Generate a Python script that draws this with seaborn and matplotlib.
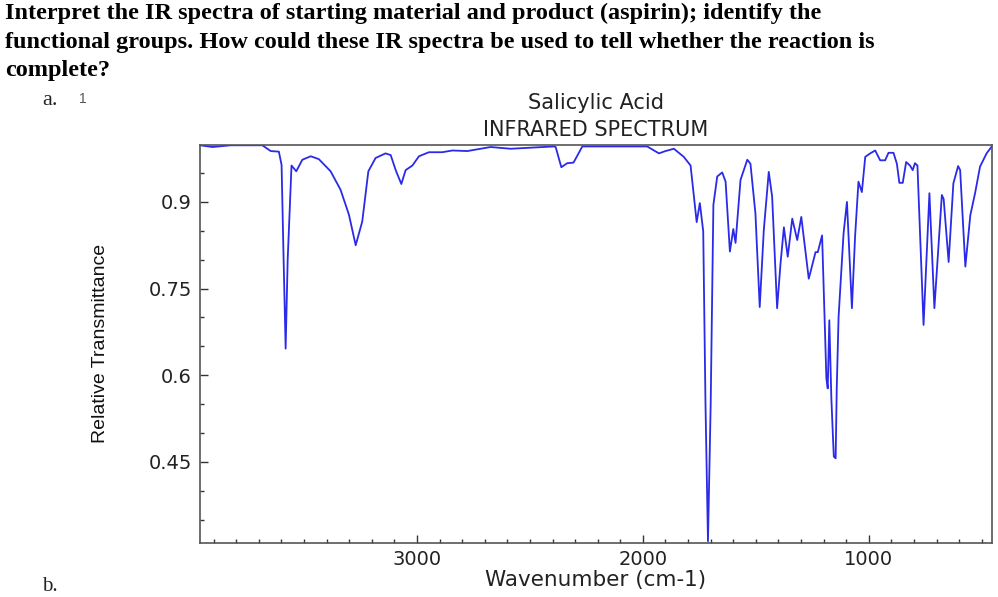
import matplotlib
matplotlib.use("Agg")
import matplotlib.pyplot as plt
import seaborn as sns
import pandas as pd
from matplotlib.ticker import MultipleLocator, FixedLocator

# ---- data ----
wavenumber = [3959, 3905, 3824, 3684, 3647, 3611, 3599, 3590, 3581, 3572, 3555, 3534,
              3507, 3470, 3434, 3382, 3338, 3301, 3271, 3242, 3215, 3183, 3139, 3116,
              3094, 3069, 3050, 3020, 2991, 2947, 2888, 2843, 2777, 2674, 2585, 2394,
              2386, 2361, 2335, 2307, 2268, 2187, 1981, 1929, 1900, 1863, 1819, 1789,
              1762, 1748, 1733, 1723, 1712, 1700, 1688, 1671, 1649, 1634, 1615, 1600,
              1590, 1568, 1538, 1524, 1502, 1483, 1465, 1443, 1428, 1406, 1391, 1376,
              1359, 1339, 1317, 1299, 1266, 1258, 1236, 1226, 1207, 1193, 1188, 1182,
              1175, 1166, 1158, 1155, 1147, 1142, 1134, 1112, 1097, 1075, 1061, 1046,
              1031, 1016, 994, 972, 950, 928, 913, 891, 876, 865, 850, 835, 818, 806,
              796, 785, 758, 732, 710, 677, 669, 647, 626, 605, 596, 573, 551, 530,
              508, 479, 456]
transmittance = [0.998, 0.995, 0.998, 0.998, 0.988, 0.987, 0.964, 0.80, 0.646, 0.80, 0.963, 0.953,
                 0.973, 0.979, 0.974, 0.953, 0.921, 0.878, 0.825, 0.866, 0.953, 0.976, 0.984, 0.981,
                 0.955, 0.931, 0.955, 0.963, 0.979, 0.986, 0.986, 0.989, 0.988, 0.995, 0.992, 0.996,
                 0.995, 0.960, 0.967, 0.968, 0.996, 0.996, 0.996, 0.984, 0.988, 0.992, 0.978, 0.963,
                 0.865, 0.898, 0.849, 0.55, 0.3125, 0.55, 0.895, 0.944, 0.951, 0.935, 0.814, 0.853,
                 0.829, 0.938, 0.973, 0.966, 0.880, 0.718, 0.851, 0.952, 0.909, 0.716, 0.793, 0.856,
                 0.805, 0.871, 0.834, 0.874, 0.767, 0.779, 0.813, 0.813, 0.842, 0.661, 0.594, 0.577,
                 0.695, 0.56, 0.485, 0.459, 0.456, 0.58, 0.701, 0.845, 0.900, 0.716, 0.84, 0.935,
                 0.917, 0.978, 0.984, 0.989, 0.972, 0.972, 0.985, 0.985, 0.966, 0.933, 0.933, 0.969, 0.963, 0.955,
                 0.967, 0.963, 0.687, 0.915, 0.716, 0.912, 0.905, 0.796, 0.932, 0.962, 0.955, 0.788, 0.877, 0.915,
                 0.961, 0.984, 0.996]

x_major = [1000, 2000, 3000]
y_major = [0.45, 0.6, 0.75, 0.9]
y_labels = ["0.45", "0.6", "0.75", "0.9"]

header_lines = [
    "Interpret the IR spectra of starting material and product (aspirin); identify the",
    "functional groups. How could these IR spectra be used to tell whether the reaction is",
    "complete?",
]

df = pd.DataFrame({"Wavenumber": wavenumber, "T": transmittance})

sns.set_theme(style="white")
plt.rcParams["font.family"] = ["DejaVu Sans"]

fig = plt.figure(figsize=(9.98, 5.97), dpi=100)
ax = fig.add_axes([0.2004, 0.0910, 0.7936, 0.6666])

sns.lineplot(data=df, x="Wavenumber", y="T", sort=False, estimator=None,
             color="#2a2ae8", linewidth=1.3, ax=ax)

ax.set_xlim(3960, 455)
ax.set_ylim(0.31, 0.999)

ax.xaxis.set_major_locator(FixedLocator(x_major))
ax.xaxis.set_minor_locator(MultipleLocator(100))
ax.yaxis.set_major_locator(FixedLocator(y_major))
ax.set_yticklabels(y_labels)
ax.yaxis.set_minor_locator(MultipleLocator(0.05))

ax.tick_params(axis="both", which="major", direction="in", length=6, width=1.0,
               color="#333333", labelsize=14, labelcolor="#222222", pad=6)
ax.tick_params(axis="x", which="major", pad=5)
ax.tick_params(axis="both", which="minor", direction="in", length=3, width=1.0,
               color="#333333")
ax.tick_params(left=True, bottom=True, top=False, right=False, which="both")

for s in ax.spines.values():
    s.set_color("#555555")
    s.set_linewidth(1.2)
    s.set_visible(True)

ax.set_xlabel("Wavenumber (cm-1)", fontsize=15.5, color="#222222", labelpad=1)
ax.set_ylabel("")
fig.text(0.101, 0.4255, "Relative Transmittance", rotation=90, ha="center", va="center",
         fontsize=14, family="Liberation Sans", color="#111111")

ax.set_title("Salicylic Acid\nINFRARED SPECTRUM", fontsize=15, color="#222222",
             linespacing=1.45, pad=6)

# header text
ys = [0.978, 0.928, 0.882]
for line, yy in zip(header_lines, ys):
    fig.text(0.005, yy, line, ha="left", va="center", fontsize=17.5,
             family="Liberation Serif", weight="bold", color="black")
fig.text(0.042, 0.832, "a.", ha="left", va="center", fontsize=16,
         family="Liberation Serif", color="#222222")
fig.text(0.079, 0.834, "1", ha="left", va="center", fontsize=10,
         family="Liberation Sans", color="#555555")
fig.text(0.042, 0.001, "b.", ha="left", va="bottom", fontsize=15,
         family="Liberation Serif", color="#222222")

fig.savefig("out.png", dpi=100)
